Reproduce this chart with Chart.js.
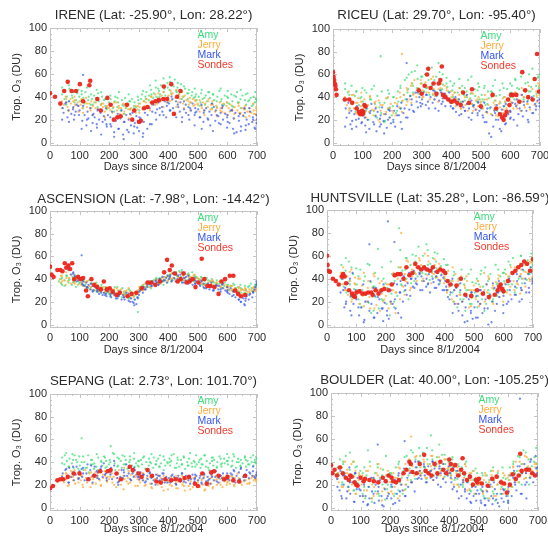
<!DOCTYPE html>
<html><head><meta charset="utf-8">
<script src="https://cdn.jsdelivr.net/npm/chart.js@4.4.0/dist/chart.umd.min.js"></script>
<style>
html,body{margin:0;padding:0;background:#fff;overflow:hidden;width:548px;height:536px}
#wrap{position:relative;width:548px;height:536px;overflow:hidden;background:#fff}
#wrap canvas{position:absolute}
</style></head><body><div id="wrap"></div>
<script>
const _ = null;
// ---------- observation days ----------
const DAYS_AMY = [
1,8,10,19,22,27,30,38,41,49,50,57,63,66,74,76,80,88,92,99,
101,107,113,116,120,129,131,138,142,149,150,157,163,165,174,176,183,187,190,199,
202,205,213,219,221,228,230,239,243,245,254,256,262,268,270,277,284,286,291,298,
300,308,311,318,323,326,334,335,342,349,351,358,360,369,372,375,384,387,390,397,
404,406,410,418,422,429,431,437,443,446,452,457,464,466,470,479,481,486,494,496,
503,509,511,516,524,527,530,538,541,547,552,555,564,566,573,578,580,589,591,598,
602,605,613,617,620,629,632,636,644,645,651,659,663,668,670,679,682,688,693,696,
699];
const DAYS_JERRY = [
3,5,12,15,24,26,33,36,40,47,53,55,60,69,71,78,83,85,94,95,
104,106,110,119,122,125,133,137,140,146,154,155,161,168,172,179,180,186,193,195,
200,209,211,215,224,226,233,236,240,248,251,259,264,265,273,275,282,289,290,296,
303,305,313,316,320,327,332,339,341,345,354,356,363,365,374,378,381,385,394,399,
401,408,412,415,424,427,433,436,440,448,450,456,461,469,473,476,483,485,492,499,
500,506,514,517,521,525,534,536,543,545,550,558,562,565,574,576,583,587,590,597,
604,608,610,616,623,625,634,637,640,649,653,656,660,667,674,675,681,689,690,697,
700];
const DAYS_MARK = [
0,7,13,17,21,29,32,35,43,46,52,59,62,65,72,79,81,87,90,98,
100,109,112,117,123,127,130,136,144,147,151,159,162,166,171,178,182,189,191,196,
204,207,210,217,223,229,231,238,242,247,250,258,261,266,274,279,283,287,292,295,
301,306,314,317,321,329,330,337,344,346,350,359,362,367,371,379,380,388,393,395,
402,407,414,416,420,426,434,439,441,447,453,459,460,468,471,477,482,489,491,495,
501,508,512,519,520,528,533,539,542,546,554,559,561,569,571,577,584,585,593,599,
600,607,611,619,621,627,631,639,642,646,654,657,661,665,672,677,684,686,692,698,
699];
const DAYS_2 = [
3,16,22,37,41,55,64,78,83,96,
107,112,125,139,144,158,161,173,186,192,
204,217,228,233,249,252,266,271,285,297,
302,315,324,338,343,357,366,371,384,398,
405,411,427,432,446,453,468,474,489,491,
506,513,522,535,548,551,564,577,582,599,
601,616,623,638,645,659,662,674,687,694,
698];
const X_TICKS = [0,100,200,300,400,500,600,700];
const Y_TICKS = [0,20,40,60,80,100];
const SERIES_NAMES = ['Amy','Jerry','Mark','Sondes'];
const STATION_TITLES = [
 'IRENE (Lat: -25.90°, Lon: 28.22°)',
 'RICEU (Lat: 29.70°, Lon: -95.40°)',
 'ASCENSION (Lat: -7.98°, Lon: -14.42°)',
 'HUNTSVILLE (Lat: 35.28°, Lon: -86.59°)',
 'SEPANG (Lat: 2.73°, Lon: 101.70°)',
 'BOULDER (Lat: 40.00°, Lon: -105.25°)'];
const X_TITLE = 'Days since 8/1/2004';
const Y_TITLE = 'Trop. O\u2083 (DU)';

// ---------- IRENE ----------
const IRENE_AMY = [
_,_,_,_,_,_,_,_,42,38,45,40,36,47,41,39,44,37,43,40,
36,42,39,34,44,37,40,33,38,41,35,39,43,36,34,40,37,32,38,35,
33,38,30,36,40,31,35,28,37,33,39,30,34,36,29,38,32,35,31,37,
34,38,42,36,40,44,37,41,46,39,43,48,40,45,42,50,44,47,41,52,
46,53,43,49,55,44,48,42,51,45,40,47,43,38,46,41,44,39,42,37,
40,35,43,38,33,41,36,44,39,34,42,37,31,40,45,36,38,33,41,35,
39,34,42,36,31,40,44,35,38,30,41,37,33,43,36,39,32,40,35,38,
36];
const IRENE_AMY_2 = [_,_,_,_,48,33,50,44,35,46, 45,30,48,42,33,46,31,44,38,29, 41,27,39,44,32,25,42,36,30,40, 28,45,38,50,42,54,47,40,56,48, 57,50,45,52,38,49,43,35,47,40, 32,46,39,44,30,42,36,47,33,40, 45,32,41,35,46,29,42,37,33,44, 38];
const IRENE_JERRY = [
_,_,_,_,_,_,_,_,36,33,40,35,31,38,34,30,37,33,35,32,
33,37,30,35,39,31,34,28,36,32,30,35,38,29,33,31,34,27,32,30,
30,33,26,31,35,28,32,25,30,34,27,31,29,33,24,30,28,32,26,29,
31,34,29,36,32,38,30,35,40,33,37,42,34,39,36,41,38,44,35,40,
41,45,37,43,39,46,35,42,38,40,34,41,37,33,39,35,38,32,36,34,
33,37,30,35,28,34,31,38,29,33,36,27,32,30,35,28,31,34,26,32,
30,27,33,29,25,31,28,34,26,30,24,29,32,27,23,30,26,28,25,31,
29];
const IRENE_JERRY_2 = [_,_,_,_,30,38,28,36,40,27, 38,26,34,30,24,37,29,33,22,31, 28,35,22,30,25,33,21,29,27,32, 26,30,35,28,40,33,43,37,31,38, 36,42,31,39,44,30,36,28,33,37, 27,32,24,36,29,33,23,30,27,35, 24,28,21,32,26,30,22,27,34,25, 28];
const IRENE_MARK = [
_,_,_,_,_,_,_,_,30,26,34,22,28,36,25,31,20,27,33,24,
28,19,32,24,15,27,21,30,17,25,22,13,29,20,26,18,23,30,16,24,
22,14,27,9,19,25,12,21,28,7,18,24,11,20,15,26,8,17,23,13,
10,21,5,18,26,12,24,30,16,27,33,20,29,35,24,31,27,36,22,32,
34,28,38,30,25,36,31,27,35,22,29,33,26,31,20,28,34,24,30,27,
29,22,33,18,26,30,21,27,15,24,31,19,28,23,17,26,32,20,25,22,
24,17,28,12,21,26,9,19,25,14,23,30,11,20,16,27,18,22,13,24,
20];
const IRENE_MARK_2 = [_,_,_,_,20,35,18,29,24,32, 12,59,20,10,24,16,28,7,20,14, 16,5,22,12,3,18,9,25,14,19, 22,8,30,16,34,26,38,30,24,35, 28,40,22,33,18,36,24,30,15,26, 22,12,28,20,34,10,24,16,30,13, 18,28,8,23,10,26,15,30,20,12, 17];
const IRENE_SONDE_DAYS = [0,17,35,48,60,73,88,101,112,133,136,160,172,194,205,216,228,239,260,278,285,301,307,318,330,346,357,368,383,385,396,410,419,430,441];
const IRENE_SONDE_O3   = [43,40,34,45,53,45,45,51,36,50,54,38,28,39,33,20,22,23,33,20,28,18,19,30,31,35,36,37,38,49,38,51,25,40,45];

// ---------- RICEU ----------
const RICEU_AMY = [
_,_,_,_,_,_,_,_,47,38,44,30,50,35,41,27,45,33,39,48,
36,25,44,30,20,38,47,28,34,22,41,31,26,45,35,19,39,29,43,24,
32,40,26,45,36,50,30,42,55,38,47,60,41,52,44,63,48,56,43,58,
52,45,60,48,55,42,66,50,46,58,44,53,62,47,51,40,57,49,45,54,
46,40,52,38,44,48,35,50,42,37,45,55,39,43,34,47,41,36,49,38,
42,36,48,33,45,39,30,44,50,37,41,28,46,35,52,40,32,47,38,43,
44,50,38,55,42,47,35,58,46,40,52,37,60,45,49,41,55,43,57,48,
44];
const RICEU_AMY_2 = [_,_,_,_,52,42,36,45,30,40, 46,28,38,50,24,35,76,18,46,31, 40,28,48,36,57,44,62,50,68,45, 58,48,64,42,55,70,46,60,52,38, 50,44,56,36,48,40,58,33,46,52, 38,50,34,45,55,30,42,48,36,52, 40,56,48,62,38,53,45,65,50,58, 60];
const RICEU_JERRY = [
_,_,_,_,_,_,_,_,40,33,45,28,37,42,30,35,25,39,32,36,
30,38,22,33,27,41,29,24,35,31,20,37,28,33,25,39,27,30,22,34,
28,35,24,39,31,44,27,37,42,33,46,38,50,35,43,55,40,48,45,52,
46,40,53,44,49,38,56,43,47,41,52,36,48,44,39,50,42,46,37,45,
40,35,44,32,38,42,30,45,36,33,41,28,38,34,43,31,37,29,40,35,
36,30,42,27,38,33,25,40,35,29,37,23,34,31,39,26,36,30,33,28,
35,40,30,44,33,38,28,42,36,31,45,34,39,29,47,37,33,41,36,50,
38];
const RICEU_JERRY_2 = [_,_,_,_,38,30,42,26,35,44, 32,22,40,28,36,18,33,25,40,30, 26,34,40,78,48,36,52,42,46,55, 40,50,44,58,38,47,52,42,48,35, 42,36,48,30,40,34,44,28,38,32, 30,38,26,42,33,24,36,29,40,27, 36,44,30,48,40,34,50,38,45,52, 42];
const RICEU_MARK = [
_,_,_,_,_,_,_,_,30,22,35,16,28,19,25,14,32,21,27,18,
24,15,30,20,12,28,34,18,23,10,27,21,16,31,19,25,13,29,22,17,
20,28,14,32,24,18,35,26,30,22,38,29,41,33,27,44,36,31,40,35,
38,44,33,42,36,48,40,35,45,30,41,37,46,34,39,43,32,38,44,36,
35,30,40,27,33,38,25,36,31,28,34,22,30,37,26,33,29,24,35,28,
30,22,35,18,27,8,31,24,14,28,33,20,26,10,29,23,34,17,25,21,
27,35,20,32,38,25,30,42,23,33,28,36,18,31,40,26,34,29,37,32,
35];
const RICEU_MARK_2 = [_,_,_,_,14,26,12,20,28,17, 22,9,26,16,30,14,24,8,20,28, 18,24,30,12,70,22,38,28,44,32, 34,42,30,46,38,28,44,36,40,32, 30,38,24,34,28,42,20,32,26,36, 24,18,30,5,26,20,12,32,16,28, 22,34,15,28,36,20,40,26,32,44, 38];
const RICEU_SONDE_DAYS = [0,2,4,6,8,10,12,40,55,65,80,88,92,95,98,100,103,106,110,290,300,310,318,322,330,340,350,358,363,368,372,380,390,400,410,420,432,440,460,470,500,540,552,565,572,577,582,587,592,597,602,608,620,630,640,650,660,675,682,690,697];
const RICEU_SONDE_O3   = [62,58,55,52,50,47,42,38,38,35,30,27,25,26,28,25,27,33,32,46,43,50,60,65,48,52,43,52,55,67,42,40,38,36,37,35,33,44,35,47,32,42,30,25,22,20,24,27,38,33,42,42,42,36,62,46,40,38,56,78,45];

// ---------- ASCENSION ----------
const ASCENSION_AMY = [
_,_,_,_,_,_,38,36,41,34,39,43,37,40,35,42,38,33,40,36,
37,40,34,38,35,32,39,33,36,30,34,37,31,29,35,32,28,33,30,27,
31,26,29,33,27,25,30,28,24,32,27,29,26,23,30,28,25,22,27,24,
29,32,34,31,36,33,38,35,32,37,39,34,41,36,38,40,35,42,39,37,
41,44,38,46,40,43,39,47,42,37,45,41,44,39,43,40,46,38,42,41,
40,37,42,35,39,36,41,34,38,40,33,37,39,35,36,32,38,34,37,33,
35,31,34,30,36,32,29,33,35,28,31,34,30,27,33,36,32,30,35,33,
34];
const ASCENSION_AMY_2 = [_,_,_,40,35,43,39,37,44,38, 35,39,32,36,30,34,29,33,31,28, 30,27,33,25,29,26,31,24,28,11, 31,35,33,38,36,40,37,41,38,43, 44,40,46,42,48,39,45,41,43,39, 37,41,35,39,34,38,36,33,37,35, 33,30,35,29,32,28,31,34,29,33, 35];
const ASCENSION_JERRY = [
_,_,_,_,_,_,40,37,43,39,35,41,38,44,36,40,37,42,35,39,
39,35,41,37,33,38,34,36,31,35,33,30,34,32,29,31,33,28,30,32,
29,31,27,30,28,32,26,29,31,27,25,30,28,26,29,27,24,28,26,30,
30,33,31,35,32,34,37,33,36,38,35,39,37,40,36,41,38,40,42,39,
43,40,45,41,38,44,42,39,46,40,43,41,38,44,40,42,39,43,37,41,
38,40,36,39,35,41,37,34,38,36,39,33,37,35,38,34,36,32,35,33,
33,30,34,31,29,32,30,28,33,31,27,30,32,29,31,28,30,33,29,31,
32];
const ASCENSION_JERRY_2 = [_,_,_,43,38,46,41,39,36,42, 37,34,38,33,36,30,35,31,29,33, 28,31,27,30,26,29,32,25,28,27, 33,30,36,33,38,35,39,37,42,38, 41,45,40,43,39,46,42,38,44,40, 39,36,40,34,38,35,37,33,36,34, 31,34,29,32,30,27,31,29,32,30, 31];
const ASCENSION_MARK = [
_,_,_,_,_,_,_,_,_,_,_,_,48,52,44,46,40,42,38,41,
40,36,38,34,37,33,35,31,34,30,33,29,31,27,30,26,28,27,25,29,
27,24,28,26,23,27,25,29,22,26,24,28,25,21,23,20,19,22,18,24,
26,30,28,33,31,35,33,36,34,38,36,39,37,35,40,38,42,39,41,37,
40,43,39,45,41,38,43,40,44,37,41,39,42,36,40,38,35,39,36,38,
37,34,39,33,36,32,35,31,34,37,30,33,35,31,34,29,32,36,30,33,
30,27,32,29,26,24,28,22,25,20,23,18,21,25,22,27,24,29,31,35,
36];
const ASCENSION_MARK_2 = [_,_,_,_,_,_,50,45,43,39, 61,35,33,36,29,32,30,28,26,30, 25,28,23,26,24,22,27,20,17,23, 29,33,31,36,34,38,35,40,39,43, 42,38,44,40,46,37,43,39,41,36, 35,38,32,36,33,30,34,31,35,29, 28,25,30,22,20,17,23,26,28,33, 38];
const ASCENSION_SONDE_DAYS = [0,5,12,25,35,42,50,55,62,68,75,82,95,105,112,122,128,140,150,160,172,182,192,202,212,225,236,262,276,292,310,330,342,356,372,386,396,405,412,422,432,442,452,462,472,482,492,502,513,522,532,542,556,570,580,592,608,620,626,636,646,660];
const ASCENSION_SONDE_O3   = [51,44,42,48,48,47,54,50,52,49,54,40,42,40,41,30,25,40,35,33,31,38,31,32,29,26,28,25,27,28,32,37,37,35,38,46,57,48,52,45,38,40,45,37,38,40,33,37,58,40,34,34,33,27,38,40,43,43,30,27,25,26];

// ---------- HUNTSVILLE ----------
const HUNTSVILLE_AMY = [
_,_,_,_,_,_,_,_,_,52,40,33,47,28,55,38,24,44,31,49,
35,22,48,15,30,42,26,53,19,37,10,33,45,24,40,14,29,50,21,36,
18,32,8,27,44,15,38,25,50,84,34,47,29,58,40,22,52,36,61,45,
55,42,68,47,38,60,50,44,65,39,53,46,58,41,49,62,36,51,44,57,
45,30,52,26,38,20,43,33,15,40,28,48,22,35,12,30,44,18,37,25,
28,40,15,35,47,22,33,50,18,38,27,44,20,31,52,25,36,42,29,45,
38,48,30,55,42,35,58,45,32,50,40,60,36,47,53,39,56,44,50,58,
52];
const HUNTSVILLE_AMY_2 = [_,_,_,_,_,45,58,35,50,26, 42,18,38,28,52,12,33,66,22,40, 30,55,20,42,65,35,48,58,44,38, 60,50,45,70,52,42,63,55,48,40, 52,38,28,46,35,22,40,30,48,18, 36,25,44,12,30,40,22,35,48,28, 45,35,52,28,48,60,40,55,45,62, 55];
const HUNTSVILLE_JERRY = [
_,_,_,_,_,_,_,_,_,45,35,50,30,42,26,38,48,22,36,41,
30,40,18,34,25,45,20,28,38,14,32,24,42,17,29,36,12,27,33,22,
25,14,35,20,30,45,10,28,40,22,50,33,26,44,37,55,30,48,42,52,
50,38,58,45,52,40,62,47,43,55,36,49,44,57,41,48,53,39,46,42,
40,28,47,33,22,38,30,44,18,35,26,42,20,32,25,38,15,30,23,34,
30,22,38,16,33,27,45,20,35,28,40,25,32,18,37,29,43,24,35,31,
36,44,28,40,33,50,38,30,46,35,42,27,48,40,33,52,45,38,55,41,
47];
const HUNTSVILLE_JERRY_2 = [_,_,_,_,_,40,30,46,20,35, 28,40,16,32,24,44,14,30,38,20, 35,18,42,28,50,80,38,56,32,46, 44,56,38,48,60,45,52,42,50,36, 44,30,50,20,38,26,34,42,16,30, 24,38,18,30,42,22,34,28,40,20, 32,42,26,50,36,44,30,46,40,54, 48];
const HUNTSVILLE_MARK = [
_,_,_,_,_,_,_,_,_,28,40,15,32,20,36,12,25,45,18,30,
22,8,30,15,35,4,20,27,12,38,18,6,25,32,10,22,28,14,3,19,
12,90,5,30,18,72,22,35,10,28,38,20,42,30,36,45,25,40,33,47,
40,35,45,30,42,38,48,33,36,44,28,40,37,46,32,39,35,43,30,41,
38,30,35,22,28,40,18,32,25,12,30,20,8,26,15,3,22,10,28,5,
15,25,6,30,18,10,28,22,35,14,26,2,20,32,12,28,38,24,33,17,
25,35,18,40,30,22,45,33,26,38,20,42,30,48,36,28,44,32,50,38,
40];
const HUNTSVILLE_MARK_2 = [_,_,_,_,_,30,18,40,8,26, 15,30,2,20,70,32,6,24,14,35, 8,20,36,14,28,6,34,26,40,32, 36,44,30,40,35,48,32,42,38,30, 33,24,10,30,18,36,2,24,12,28, 6,20,30,14,0,24,36,18,28,10, 30,20,38,26,44,32,22,40,28,46, 36];
const HUNTSVILLE_SONDE_DAYS = [0,2,5,10,20,30,40,50,55,60,65,75,85,90,95,100,110,120,130,140,150,155,165,175,185,195,210,220,230,240,250,260,270,280,290,300,310,320,330,340,350,360,375,385,395,402,410,420,440,455,470,490,510,530,550,570,580,585,590,595,600,615,630,640,650,660,670,680,690,700];
const HUNTSVILLE_SONDE_O3   = [60,52,47,46,40,38,35,42,44,42,36,30,27,25,24,28,29,27,27,28,28,26,30,27,30,31,30,35,43,44,44,40,50,43,45,53,50,48,50,48,47,50,46,48,47,45,38,35,34,40,26,25,30,27,24,26,30,33,35,31,29,38,45,47,50,52,55,53,47,57];

// ---------- SEPANG ----------
const SEPANG_AMY = [
_,_,_,_,_,_,_,_,44,38,46,41,36,43,39,47,35,42,40,45,
37,61,33,40,35,46,31,38,42,34,39,36,44,32,40,37,45,35,41,38,
42,54,48,39,33,44,37,41,35,46,38,42,34,40,45,37,43,36,39,41,
36,42,38,45,34,40,37,43,39,35,44,38,41,36,46,39,33,42,37,40,
43,37,41,47,35,39,44,36,42,38,45,34,40,37,43,39,36,41,46,38,
40,35,43,38,46,36,41,33,39,44,37,42,35,40,45,38,36,43,39,41,
38,44,36,41,47,35,40,43,37,42,39,45,36,41,38,44,40,37,42,39,
43];
const SEPANG_AMY_2 = [_,_,_,_,39,48,36,42,46,34, 40,45,35,42,38,47,33,41,44,36, 40,47,36,43,38,45,35,42,48,37, 41,44,34,40,47,38,43,36,45,39, 40,46,35,42,38,44,37,48,40,36, 42,38,46,35,41,44,36,43,39,47, 41,37,45,40,36,44,42,38,46,40, 44];
const SEPANG_JERRY = [
_,_,_,_,_,_,_,_,28,22,30,25,19,27,32,24,29,21,26,31,
24,28,20,33,26,22,30,18,27,25,31,21,28,24,19,29,26,32,23,27,
25,30,22,27,18,26,33,24,20,28,35,23,26,21,29,24,31,19,27,25,
28,22,30,24,19,26,32,21,27,17,25,23,29,20,26,18,24,28,22,16,
23,27,19,25,21,28,17,24,26,20,22,15,25,19,27,23,18,26,21,24,
22,18,25,20,27,16,23,19,26,21,17,24,28,20,22,25,18,27,23,20,
25,21,28,23,19,26,30,22,24,20,27,23,29,21,25,22,26,24,28,23,
25];
const SEPANG_JERRY_2 = [_,_,_,_,24,30,20,27,33,22, 28,18,25,31,21,26,30,20,28,23, 27,20,30,23,16,25,32,22,28,19, 24,30,20,27,18,25,22,28,15,24, 20,26,17,23,28,19,25,16,22,27, 19,24,15,22,28,18,25,20,26,22, 23,27,20,26,22,28,24,21,27,25, 24];
const SEPANG_MARK = [
_,_,_,_,_,_,_,_,30,25,33,28,22,35,27,31,24,29,36,26,
32,27,35,24,30,38,26,33,22,29,36,28,31,25,34,27,39,30,26,33,
29,35,25,41,30,22,20,27,33,26,31,38,28,35,24,30,27,33,29,31,
27,31,24,29,22,28,25,30,21,27,24,29,26,23,28,25,30,22,27,24,
26,22,29,24,27,21,28,25,23,30,26,22,28,24,27,25,29,23,26,28,
24,28,22,26,30,23,27,25,21,29,24,27,32,22,26,28,24,30,25,27,
27,24,30,26,33,22,28,31,25,35,27,24,29,33,26,30,28,32,27,29,
31];
const SEPANG_MARK_2 = [_,_,_,_,27,34,22,36,30,25, 34,30,24,37,28,32,26,36,29,24, 31,37,26,23,33,28,30,25,35,27, 25,29,23,31,26,20,28,24,30,22, 24,28,20,26,30,23,27,21,25,29, 26,21,29,24,27,31,23,28,26,30, 25,29,32,24,34,28,27,31,36,26, 28];
const SEPANG_SONDE_DAYS = [0,10,25,35,45,60,80,100,130,150,170,195,205,225,240,270,280,300,310,330,345,360,375,390,410,425,440,455,470,490,500,515,530,545,555,570,590,600,620,640,660];
const SEPANG_SONDE_O3   = [17,19,24,25,25,27,30,30,25,28,32,32,33,30,25,36,33,30,27,33,28,23,22,25,24,25,24,26,27,21,19,30,21,31,32,28,25,27,24,23,28];

// ---------- BOULDER ----------
const BOULDER_AMY = [
_,_,_,_,35,28,42,22,38,30,45,18,33,26,40,15,29,36,21,32,
25,12,35,8,28,18,40,5,22,30,14,38,10,26,20,33,7,24,16,30,
18,28,10,35,22,15,40,26,12,32,20,45,28,38,24,48,30,42,35,52,
40,30,48,35,25,42,38,32,50,28,36,44,30,40,34,46,27,38,42,33,
36,28,42,24,32,38,20,30,35,18,28,40,22,26,15,32,24,12,30,20,
25,15,30,10,22,28,8,18,32,14,24,6,20,27,12,22,35,16,25,10,
28,35,18,40,25,32,45,22,38,30,50,26,35,42,20,36,30,44,28,38,
33];
const BOULDER_AMY_2 = [_,_,30,20,40,25,48,15,35,28, 30,18,50,8,25,35,12,28,45,20, 30,12,38,22,44,16,34,50,25,40, 45,35,52,63,42,38,55,32,46,40, 30,44,25,36,20,38,28,14,34,22, 16,28,8,24,35,12,30,18,26,5, 24,38,30,44,20,48,34,26,40,52, 35];
const BOULDER_JERRY = [
_,_,_,_,30,22,36,18,28,40,25,33,15,38,20,27,32,12,24,30,
20,28,10,32,15,24,36,8,26,18,30,12,22,34,6,25,17,28,13,27,
22,12,30,18,26,8,34,20,28,15,38,24,32,42,22,36,28,45,30,40,
35,28,42,32,26,38,30,45,33,24,40,36,28,44,32,38,26,42,34,30,
32,25,38,20,30,35,18,28,33,22,26,36,15,30,24,20,32,12,26,22,
20,26,12,24,30,15,22,8,28,18,25,10,20,32,16,24,12,28,20,26,
24,30,18,35,26,40,22,32,28,38,25,45,30,36,27,42,32,38,35,30,
34];
const BOULDER_JERRY_2 = [_,_,25,35,18,30,22,40,12,28, 25,15,32,20,10,28,38,14,24,32, 14,26,35,10,30,20,38,62,44,32, 30,40,26,36,45,30,38,28,42,35, 28,36,20,32,24,38,16,30,26,20, 22,14,28,18,32,10,26,20,30,16, 28,36,22,40,30,26,44,34,28,38, 32];
const BOULDER_MARK = [
_,_,_,_,25,15,32,10,20,28,8,18,35,12,22,5,30,16,26,10,
15,5,22,10,2,18,8,26,12,4,20,14,6,24,10,1,16,8,28,12,
8,18,3,24,12,30,6,20,15,34,10,26,18,38,22,30,14,35,25,40,
32,25,38,28,22,36,30,26,40,24,34,28,20,36,30,25,38,22,32,28,
30,22,35,18,26,14,28,20,10,24,16,8,22,12,5,18,10,25,6,15,
12,4,18,8,2,14,6,20,10,3,16,7,12,1,22,8,5,15,10,4,
18,28,10,32,22,15,36,95,12,30,38,20,8,34,26,42,22,30,45,35,
28];
const BOULDER_MARK_2 = [_,_,18,8,28,14,22,5,30,16, 10,20,3,14,26,55,18,2,22,10, 20,4,28,14,58,10,30,22,40,26, 28,36,22,32,40,26,34,18,30,36, 26,16,32,8,22,14,28,4,18,12, 6,14,2,18,8,22,4,12,16,6, 14,26,20,36,12,30,22,40,28,34, 30];
const BOULDER_SONDE_DAYS = [0,5,12,20,30,40,50,60,65,70,80,85,90,100,110,115,130,145,160,175,185,195,205,210,220,230,245,255,265,270,275,290,300,315,320,330,340,350,360,370,380,390,400,405,410,420,430,440,445,450,460,470,480,490,495,500,510,530,545,560,575,585,595,605,615,625,635,640,645,660,670,680,690];
const BOULDER_SONDE_O3   = [37,30,33,28,35,30,26,24,28,27,22,20,19,26,23,25,24,23,22,26,23,28,26,23,22,24,30,33,40,38,31,30,38,46,32,30,28,38,30,40,33,30,42,38,33,37,28,33,43,30,24,27,20,24,22,25,21,19,25,27,22,21,13,20,29,25,28,47,32,33,33,30,28];

// ---------- styling / layout (not data) ----------
const FONT = '"Liberation Sans", Arial, Helvetica, sans-serif';
const TEXT = '#2b2b2b';
const POINT_COLORS = ['rgba(55,222,115,0.7)','rgba(255,170,50,0.75)','rgba(50,82,230,0.68)','rgba(236,38,28,0.95)'];
const KEY_COLORS = ['#3ddc7c','#ffab3a','#3555e6','#f03a2c'];
const FRAME_COLOR = '#c4c4c4';
// plot-area box per panel, title gap above, x-axis-title gap below
const PANEL_BOXES = [
 {L:50, R:257, T:28,  B:146,   tg:13,   xt:21},
 {L:333,R:540, T:29,  B:146,   tg:13.3, xt:21},
 {L:50, R:257, T:211, B:327.5, tg:12,   xt:22.3},
 {L:327,R:533, T:210, B:327.5, tg:12,   xt:22.3},
 {L:50, R:257, T:394, B:510.5, tg:13,   xt:17.5},
 {L:331,R:538, T:393, B:510.5, tg:13,   xt:18.3}];

const framePlugin = {
  id: 'frameBox',
  beforeDatasetsDraw(chart) {
    const {ctx, chartArea: a, scales} = chart;
    const x = scales.x, y = scales.y;
    ctx.save();
    ctx.strokeStyle = FRAME_COLOR;
    ctx.lineWidth = 1;
    ctx.strokeRect(Math.round(a.left) + 0.5, Math.round(a.top) + 0.5,
                   Math.round(a.right - a.left) - 1, Math.round(a.bottom - a.top) - 1);
    ctx.beginPath();
    for (let v = 0; v <= 100; v += 5) {
      const p = Math.round(y.getPixelForValue(v)) + 0.5;
      const len = (v % 20 === 0) ? 4 : 2;
      ctx.moveTo(a.left, p); ctx.lineTo(a.left + len, p);
      ctx.moveTo(a.right, p); ctx.lineTo(a.right - len, p);
    }
    for (let v = 0; v <= 700; v += 25) {
      const p = Math.round(x.getPixelForValue(v)) + 0.5;
      const len = (v % 100 === 0) ? 4 : 2;
      ctx.moveTo(p, a.bottom); ctx.lineTo(p, a.bottom - len);
      ctx.moveTo(p, a.top); ctx.lineTo(p, a.top + len);
    }
    ctx.stroke();
    ctx.restore();
  }
};

const keyPlugin = {
  id: 'seriesKey',
  afterDatasetsDraw(chart) {
    const {ctx, chartArea: a} = chart;
    ctx.save();
    ctx.font = '10.5px ' + FONT;
    ctx.textBaseline = 'middle';
    ctx.textAlign = 'left';
    const x0 = a.left + 0.712 * (a.right - a.left);
    SERIES_NAMES.forEach((n, i) => {
      ctx.fillStyle = KEY_COLORS[i];
      ctx.fillText(n, x0, a.top + 7.5 + i * 9.8);
    });
    ctx.restore();
  }
};

const wrap = document.getElementById('wrap');
const PADL = 50, PADR = 50, TOPH = 28, BOTH = 30;
const SAT_DAYS = [DAYS_AMY, DAYS_JERRY, DAYS_MARK];

function makePanel(idx, sats, sats2, sdays, so3) {
  const box = PANEL_BOXES[idx];
  const W = box.R - box.L, H = box.B - box.T;
  const cv = document.createElement('canvas');
  cv.width = Math.round(W + PADL + PADR);
  cv.height = Math.round(H + TOPH + BOTH);
  cv.style.left = (box.L - PADL) + 'px';
  cv.style.top = (box.T - TOPH) + 'px';
  cv.style.width = cv.width + 'px';
  cv.style.height = cv.height + 'px';
  wrap.appendChild(cv);

  const sat = ci => ({
    label: SERIES_NAMES[ci],
    data: SAT_DAYS[ci].map((d, i) => ({x: d, y: sats[ci][i]}))
          .concat(DAYS_2.map((d, i) => ({x: d, y: sats2[ci][i]}))),
    pointRadius: 1.15, pointHoverRadius: 1.15, pointBorderWidth: 0,
    backgroundColor: POINT_COLORS[ci], borderColor: POINT_COLORS[ci],
    showLine: false, order: 3 - ci
  });
  const sondes = {
    label: SERIES_NAMES[3],
    data: sdays.map((d, i) => ({x: d, y: so3[i]})),
    pointRadius: 2.3, pointHoverRadius: 2.3, pointBorderWidth: 0,
    backgroundColor: POINT_COLORS[3], borderColor: POINT_COLORS[3],
    showLine: false, order: 0
  };
  const tickFont = {family: FONT, size: 11, lineHeight: 1.2};
  const titleFont = {family: FONT, size: 11, lineHeight: 1.2};
  const xTitlePadBottom = Math.max(0, BOTH - box.xt - 6.6);

  new Chart(cv, {
    type: 'scatter',
    data: {datasets: [sat(0), sat(1), sat(2), sondes]},
    options: {
      responsive: false, animation: false, devicePixelRatio: 1,
      events: [],
      layout: {padding: 0},
      plugins: {
        legend: {display: false},
        tooltip: {enabled: false},
        title: {
          display: true, text: STATION_TITLES[idx], color: TEXT,
          font: {family: FONT, size: 13.3, weight: 'normal', lineHeight: 1.2},
          padding: {top: TOPH - box.tg - 7.98, bottom: box.tg - 7.98}
        }
      },
      scales: {
        x: {
          type: 'linear', position: 'bottom', min: 0, max: 700,
          afterBuildTicks: s => { s.ticks = X_TICKS.map(v => ({value: v})); },
          afterFit: s => { s.height = BOTH; },
          grid: {display: false, drawTicks: false},
          border: {display: false},
          ticks: {color: TEXT, font: tickFont, padding: 3, maxRotation: 0, autoSkip: false},
          title: {display: true, text: X_TITLE, color: TEXT, font: titleFont, padding: {top: 0, bottom: xTitlePadBottom}}
        },
        y: {
          type: 'linear', position: 'left', min: -3, max: 100,
          afterBuildTicks: s => { s.ticks = Y_TICKS.map(v => ({value: v})); },
          afterFit: s => { s.width = PADL; },
          grid: {display: false, drawTicks: false},
          border: {display: false},
          ticks: {color: TEXT, font: tickFont, padding: 3, autoSkip: false},
          title: {display: true, text: Y_TITLE, color: TEXT, font: titleFont, padding: {top: 10.4, bottom: 0}}
        },
        yr: {
          type: 'linear', position: 'right', min: -3, max: 100, display: true,
          afterFit: s => { s.width = PADR; },
          grid: {display: false, drawTicks: false},
          border: {display: false},
          ticks: {display: false}
        }
      }
    },
    plugins: [framePlugin, keyPlugin]
  });
}

makePanel(0, [IRENE_AMY, IRENE_JERRY, IRENE_MARK], [IRENE_AMY_2, IRENE_JERRY_2, IRENE_MARK_2], IRENE_SONDE_DAYS, IRENE_SONDE_O3);
makePanel(1, [RICEU_AMY, RICEU_JERRY, RICEU_MARK], [RICEU_AMY_2, RICEU_JERRY_2, RICEU_MARK_2], RICEU_SONDE_DAYS, RICEU_SONDE_O3);
makePanel(2, [ASCENSION_AMY, ASCENSION_JERRY, ASCENSION_MARK], [ASCENSION_AMY_2, ASCENSION_JERRY_2, ASCENSION_MARK_2], ASCENSION_SONDE_DAYS, ASCENSION_SONDE_O3);
makePanel(3, [HUNTSVILLE_AMY, HUNTSVILLE_JERRY, HUNTSVILLE_MARK], [HUNTSVILLE_AMY_2, HUNTSVILLE_JERRY_2, HUNTSVILLE_MARK_2], HUNTSVILLE_SONDE_DAYS, HUNTSVILLE_SONDE_O3);
makePanel(4, [SEPANG_AMY, SEPANG_JERRY, SEPANG_MARK], [SEPANG_AMY_2, SEPANG_JERRY_2, SEPANG_MARK_2], SEPANG_SONDE_DAYS, SEPANG_SONDE_O3);
makePanel(5, [BOULDER_AMY, BOULDER_JERRY, BOULDER_MARK], [BOULDER_AMY_2, BOULDER_JERRY_2, BOULDER_MARK_2], BOULDER_SONDE_DAYS, BOULDER_SONDE_O3);
</script></body></html>
